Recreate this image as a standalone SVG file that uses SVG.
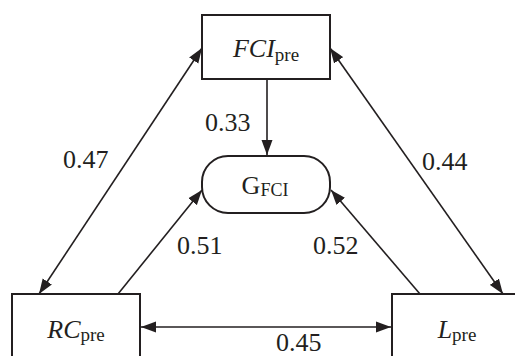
<svg xmlns="http://www.w3.org/2000/svg" width="515" height="356" viewBox="0 0 515 356">
<style>
.box{fill:#fff;stroke:#231f20;stroke-width:2}
.ln{stroke:#231f20;stroke-width:1.6;fill:none}
.t{fill:#231f20}
.lbl{font-size:26px}
.big{font-size:26px}
.sub{font-size:19px}
.it{font-style:italic}
</style>
<defs>
<marker id="ah" markerUnits="userSpaceOnUse" markerWidth="16" markerHeight="12" refX="15" refY="5.5" orient="auto-start-reverse" viewBox="0 0 16 11">
<path d="M0,0 L15,5.5 L0,11 Z" fill="#231f20"/>
</marker>
</defs>
<rect width="515" height="356" fill="#fff"/>
<g font-family="'Liberation Serif', 'Times New Roman', serif">
<g id="connectors">
<line class="ln" x1="267" y1="80" x2="267" y2="155" marker-end="url(#ah)"/>
<line class="ln" x1="39" y1="294" x2="202" y2="48" marker-start="url(#ah)" marker-end="url(#ah)"/>
<line class="ln" x1="330" y1="48" x2="503" y2="294" marker-start="url(#ah)" marker-end="url(#ah)"/>
<line class="ln" x1="118" y1="294" x2="202" y2="190" marker-end="url(#ah)"/>
<line class="ln" x1="420" y1="294" x2="331" y2="190" marker-end="url(#ah)"/>
<line class="ln" x1="141" y1="327" x2="391" y2="327" marker-start="url(#ah)" marker-end="url(#ah)"/>
<text class="t lbl" x="205" y="131">0.33</text>
<text class="t lbl" x="63" y="168">0.47</text>
<text class="t lbl" x="422" y="170">0.44</text>
<text class="t lbl" x="177" y="254">0.51</text>
<text class="t lbl" x="313" y="254">0.52</text>
<text class="t lbl" x="276" y="351">0.45</text>
</g>
<g id="FCIpre">
<rect class="box" x="202" y="15" width="128" height="64"/>
<text class="t" x="266" y="57" text-anchor="middle"><tspan class="big it">FCI</tspan><tspan class="sub" dy="4">pre</tspan></text>
</g>
<g id="GFCI">
<rect class="box" x="202" y="156" width="128" height="57" rx="26" ry="26"/>
<text class="t" x="265" y="194" text-anchor="middle"><tspan class="big">G</tspan><tspan style="font-size:18px" dy="2">FCI</tspan></text>
</g>
<g id="RCpre">
<rect class="box" x="12" y="294" width="128" height="80"/>
<text class="t" x="76" y="338" text-anchor="middle"><tspan class="big it">RC</tspan><tspan class="sub" dy="3">pre</tspan></text>
</g>
<g id="Lpre">
<rect class="box" x="392" y="294" width="130" height="80"/>
<text class="t" x="457" y="338" text-anchor="middle"><tspan class="big it">L</tspan><tspan class="sub" dy="3">pre</tspan></text>
</g>
</g>
</svg>
